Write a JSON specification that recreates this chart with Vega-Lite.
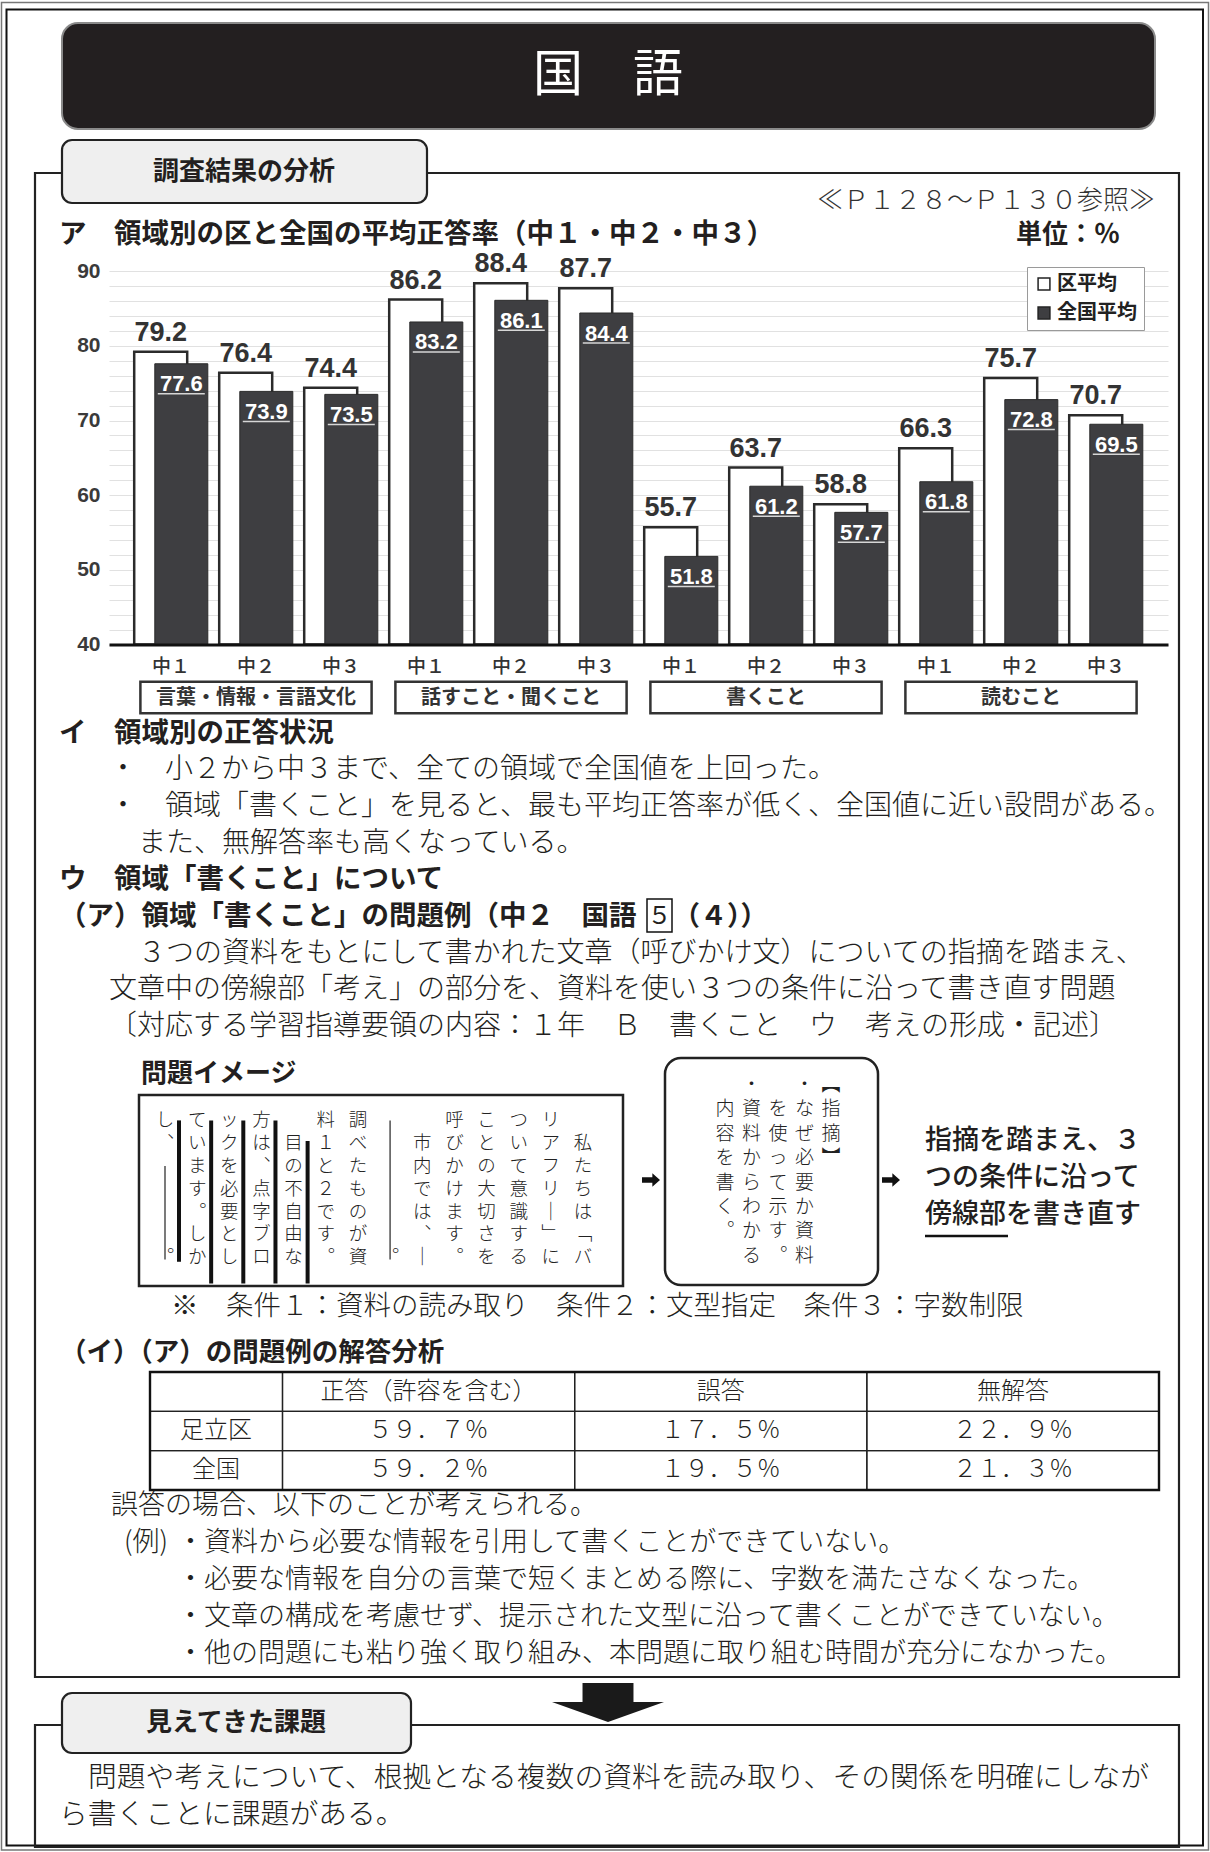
{
  "$schema": "https://vega.github.io/schema/vega-lite/v6.json",
  "width": 1210,
  "height": 1852,
  "autosize": {"type": "none"},
  "padding": 0,
  "background": "#ffffff",
  "config": {"view": {"stroke": null}, "text": {"font": "Noto Sans CJK JP", "color": "#231f20"}},
  "datasets": {
    "bars": [
      {"domain": "言葉・情報・言語文化", "grade": "中１", "key": "言葉・情報・言語文化|中１", "series": "区平均", "value": 79.2},
      {"domain": "言葉・情報・言語文化", "grade": "中１", "key": "言葉・情報・言語文化|中１", "series": "全国平均", "value": 77.6},
      {"domain": "言葉・情報・言語文化", "grade": "中２", "key": "言葉・情報・言語文化|中２", "series": "区平均", "value": 76.4},
      {"domain": "言葉・情報・言語文化", "grade": "中２", "key": "言葉・情報・言語文化|中２", "series": "全国平均", "value": 73.9},
      {"domain": "言葉・情報・言語文化", "grade": "中３", "key": "言葉・情報・言語文化|中３", "series": "区平均", "value": 74.4},
      {"domain": "言葉・情報・言語文化", "grade": "中３", "key": "言葉・情報・言語文化|中３", "series": "全国平均", "value": 73.5},
      {"domain": "話すこと・聞くこと", "grade": "中１", "key": "話すこと・聞くこと|中１", "series": "区平均", "value": 86.2},
      {"domain": "話すこと・聞くこと", "grade": "中１", "key": "話すこと・聞くこと|中１", "series": "全国平均", "value": 83.2},
      {"domain": "話すこと・聞くこと", "grade": "中２", "key": "話すこと・聞くこと|中２", "series": "区平均", "value": 88.4},
      {"domain": "話すこと・聞くこと", "grade": "中２", "key": "話すこと・聞くこと|中２", "series": "全国平均", "value": 86.1},
      {"domain": "話すこと・聞くこと", "grade": "中３", "key": "話すこと・聞くこと|中３", "series": "区平均", "value": 87.7},
      {"domain": "話すこと・聞くこと", "grade": "中３", "key": "話すこと・聞くこと|中３", "series": "全国平均", "value": 84.4},
      {"domain": "書くこと", "grade": "中１", "key": "書くこと|中１", "series": "区平均", "value": 55.7},
      {"domain": "書くこと", "grade": "中１", "key": "書くこと|中１", "series": "全国平均", "value": 51.8},
      {"domain": "書くこと", "grade": "中２", "key": "書くこと|中２", "series": "区平均", "value": 63.7},
      {"domain": "書くこと", "grade": "中２", "key": "書くこと|中２", "series": "全国平均", "value": 61.2},
      {"domain": "書くこと", "grade": "中３", "key": "書くこと|中３", "series": "区平均", "value": 58.8},
      {"domain": "書くこと", "grade": "中３", "key": "書くこと|中３", "series": "全国平均", "value": 57.7},
      {"domain": "読むこと", "grade": "中１", "key": "読むこと|中１", "series": "区平均", "value": 66.3},
      {"domain": "読むこと", "grade": "中１", "key": "読むこと|中１", "series": "全国平均", "value": 61.8},
      {"domain": "読むこと", "grade": "中２", "key": "読むこと|中２", "series": "区平均", "value": 75.7},
      {"domain": "読むこと", "grade": "中２", "key": "読むこと|中２", "series": "全国平均", "value": 72.8},
      {"domain": "読むこと", "grade": "中３", "key": "読むこと|中３", "series": "区平均", "value": 70.7},
      {"domain": "読むこと", "grade": "中３", "key": "読むこと|中３", "series": "全国平均", "value": 69.5}
    ],
    "answers": [
      {"area": "項目", "kind": "正答（許容を含む）", "pct": null, "label": "正答（許容を含む）"},
      {"area": "項目", "kind": "誤答", "pct": null, "label": "誤答"},
      {"area": "項目", "kind": "無解答", "pct": null, "label": "無解答"},
      {"area": "足立区", "kind": "正答（許容を含む）", "pct": 59.7, "label": "５９．７％"},
      {"area": "足立区", "kind": "誤答", "pct": 17.5, "label": "１７．５％"},
      {"area": "足立区", "kind": "無解答", "pct": 22.9, "label": "２２．９％"},
      {"area": "全国", "kind": "正答（許容を含む）", "pct": 59.2, "label": "５９．２％"},
      {"area": "全国", "kind": "誤答", "pct": 19.5, "label": "１９．５％"},
      {"area": "全国", "kind": "無解答", "pct": 21.3, "label": "２１．３％"}
    ],
    "passage": [
      {"col": 0, "pos": 1, "ch": "私"}, {"col": 0, "pos": 2, "ch": "た"}, {"col": 0, "pos": 3, "ch": "ち"}, {"col": 0, "pos": 4, "ch": "は"}, {"col": 0, "pos": 5, "ch": "﹁"}, {"col": 0, "pos": 6, "ch": "バ"},
      {"col": 1, "pos": 0, "ch": "リ"}, {"col": 1, "pos": 1, "ch": "ア"}, {"col": 1, "pos": 2, "ch": "フ"}, {"col": 1, "pos": 3, "ch": "リ"}, {"col": 1, "pos": 4, "ch": "｜"}, {"col": 1, "pos": 5, "ch": "﹂"}, {"col": 1, "pos": 6, "ch": "に"},
      {"col": 2, "pos": 0, "ch": "つ"}, {"col": 2, "pos": 1, "ch": "い"}, {"col": 2, "pos": 2, "ch": "て"}, {"col": 2, "pos": 3, "ch": "意"}, {"col": 2, "pos": 4, "ch": "識"}, {"col": 2, "pos": 5, "ch": "す"}, {"col": 2, "pos": 6, "ch": "る"},
      {"col": 3, "pos": 0, "ch": "こ"}, {"col": 3, "pos": 1, "ch": "と"}, {"col": 3, "pos": 2, "ch": "の"}, {"col": 3, "pos": 3, "ch": "大"}, {"col": 3, "pos": 4, "ch": "切"}, {"col": 3, "pos": 5, "ch": "さ"}, {"col": 3, "pos": 6, "ch": "を"},
      {"col": 4, "pos": 0, "ch": "呼"}, {"col": 4, "pos": 1, "ch": "び"}, {"col": 4, "pos": 2, "ch": "か"}, {"col": 4, "pos": 3, "ch": "け"}, {"col": 4, "pos": 4, "ch": "ま"}, {"col": 4, "pos": 5, "ch": "す"}, {"col": 4, "pos": 6, "ch": "︒"},
      {"col": 5, "pos": 1, "ch": "市"}, {"col": 5, "pos": 2, "ch": "内"}, {"col": 5, "pos": 3, "ch": "で"}, {"col": 5, "pos": 4, "ch": "は"}, {"col": 5, "pos": 5, "ch": "︑"}, {"col": 5, "pos": 6, "ch": "｜"},
      {"col": 6, "pos": 6, "ch": "︒"},
      {"col": 7, "pos": 0, "ch": "調"}, {"col": 7, "pos": 1, "ch": "べ"}, {"col": 7, "pos": 2, "ch": "た"}, {"col": 7, "pos": 3, "ch": "も"}, {"col": 7, "pos": 4, "ch": "の"}, {"col": 7, "pos": 5, "ch": "が"}, {"col": 7, "pos": 6, "ch": "資"},
      {"col": 8, "pos": 0, "ch": "料"}, {"col": 8, "pos": 1, "ch": "１"}, {"col": 8, "pos": 2, "ch": "と"}, {"col": 8, "pos": 3, "ch": "２"}, {"col": 8, "pos": 4, "ch": "で"}, {"col": 8, "pos": 5, "ch": "す"}, {"col": 8, "pos": 6, "ch": "︒"},
      {"col": 9, "pos": 1, "ch": "目"}, {"col": 9, "pos": 2, "ch": "の"}, {"col": 9, "pos": 3, "ch": "不"}, {"col": 9, "pos": 4, "ch": "自"}, {"col": 9, "pos": 5, "ch": "由"}, {"col": 9, "pos": 6, "ch": "な"},
      {"col": 10, "pos": 0, "ch": "方"}, {"col": 10, "pos": 1, "ch": "は"}, {"col": 10, "pos": 2, "ch": "︑"}, {"col": 10, "pos": 3, "ch": "点"}, {"col": 10, "pos": 4, "ch": "字"}, {"col": 10, "pos": 5, "ch": "ブ"}, {"col": 10, "pos": 6, "ch": "ロ"},
      {"col": 11, "pos": 0, "ch": "ッ"}, {"col": 11, "pos": 1, "ch": "ク"}, {"col": 11, "pos": 2, "ch": "を"}, {"col": 11, "pos": 3, "ch": "必"}, {"col": 11, "pos": 4, "ch": "要"}, {"col": 11, "pos": 5, "ch": "と"}, {"col": 11, "pos": 6, "ch": "し"},
      {"col": 12, "pos": 0, "ch": "て"}, {"col": 12, "pos": 1, "ch": "い"}, {"col": 12, "pos": 2, "ch": "ま"}, {"col": 12, "pos": 3, "ch": "す"}, {"col": 12, "pos": 4, "ch": "︒"}, {"col": 12, "pos": 5, "ch": "し"}, {"col": 12, "pos": 6, "ch": "か"},
      {"col": 13, "pos": 0, "ch": "し"}, {"col": 13, "pos": 1, "ch": "︑"}, {"col": 13, "pos": 6, "ch": "︒"}
    ],
    "remark": [
      {"col": 0, "pos": 0, "ch": "︻"}, {"col": 0, "pos": 1, "ch": "指"}, {"col": 0, "pos": 2, "ch": "摘"}, {"col": 0, "pos": 3, "ch": "︼"},
      {"col": 1, "pos": 0, "ch": "・"}, {"col": 1, "pos": 1, "ch": "な"}, {"col": 1, "pos": 2, "ch": "ぜ"}, {"col": 1, "pos": 3, "ch": "必"}, {"col": 1, "pos": 4, "ch": "要"}, {"col": 1, "pos": 5, "ch": "か"}, {"col": 1, "pos": 6, "ch": "資"}, {"col": 1, "pos": 7, "ch": "料"},
      {"col": 2, "pos": 1, "ch": "を"}, {"col": 2, "pos": 2, "ch": "使"}, {"col": 2, "pos": 3, "ch": "っ"}, {"col": 2, "pos": 4, "ch": "て"}, {"col": 2, "pos": 5, "ch": "示"}, {"col": 2, "pos": 6, "ch": "す"}, {"col": 2, "pos": 7, "ch": "︒"},
      {"col": 3, "pos": 0, "ch": "・"}, {"col": 3, "pos": 1, "ch": "資"}, {"col": 3, "pos": 2, "ch": "料"}, {"col": 3, "pos": 3, "ch": "か"}, {"col": 3, "pos": 4, "ch": "ら"}, {"col": 3, "pos": 5, "ch": "わ"}, {"col": 3, "pos": 6, "ch": "か"}, {"col": 3, "pos": 7, "ch": "る"},
      {"col": 4, "pos": 1, "ch": "内"}, {"col": 4, "pos": 2, "ch": "容"}, {"col": 4, "pos": 3, "ch": "を"}, {"col": 4, "pos": 4, "ch": "書"}, {"col": 4, "pos": 5, "ch": "く"}, {"col": 4, "pos": 6, "ch": "︒"}
    ]
  },
  "resolve": {"scale": {"x": "independent", "y": "independent"}},
  "layer": [
    {"data": {"values": [{}]}, "mark": {"type": "rect", "filled": false, "stroke": "#777777", "strokeWidth": 1.5},
     "encoding": {"x": {"value": 1.5}, "x2": {"value": 1208.5}, "y": {"value": 2.5}, "y2": {"value": 1850}}},
    {"data": {"values": [{}]}, "mark": {"type": "rect", "filled": false, "stroke": "#111111", "strokeWidth": 2},
     "encoding": {"x": {"value": 6.5}, "x2": {"value": 1203}, "y": {"value": 9.5}, "y2": {"value": 1845.5}}},
    {"data": {"values": [{}]}, "mark": {"type": "rect", "fill": "#231f20", "stroke": "#8a8a8a", "strokeWidth": 2, "cornerRadius": 16},
     "encoding": {"x": {"value": 62}, "x2": {"value": 1155}, "y": {"value": 23}, "y2": {"value": 129}}},
    {"data": {"values": [{"t": "国　語"}]}, "mark": {"type": "text", "fontSize": 50, "fontWeight": 400, "color": "#ffffff", "align": "center", "baseline": "middle"},
     "encoding": {"x": {"value": 608}, "y": {"value": 76}, "text": {"field": "t"}}},
    {"data": {"values": [{}]}, "mark": {"type": "rect", "filled": false, "stroke": "#222222", "strokeWidth": 2.2},
     "encoding": {"x": {"value": 35}, "x2": {"value": 1179}, "y": {"value": 173}, "y2": {"value": 1677}}},
    {"data": {"values": [{}]}, "mark": {"type": "rect", "fill": "#efefef", "stroke": "#222222", "strokeWidth": 2.2, "cornerRadius": 10},
     "encoding": {"x": {"value": 62}, "x2": {"value": 427}, "y": {"value": 140}, "y2": {"value": 203}}},
    {"data": {"values": [{"t": "調査結果の分析"}]}, "mark": {"type": "text", "fontSize": 26, "fontWeight": "bold", "align": "center", "baseline": "middle"},
     "encoding": {"x": {"value": 244}, "y": {"value": 172}, "text": {"field": "t"}}},
    {"data": {"values": [{"t": "≪Ｐ１２８～Ｐ１３０参照≫"}]}, "mark": {"type": "text", "fontSize": 26, "fontWeight": 300, "color": "#333333", "align": "right", "baseline": "middle"},
     "encoding": {"x": {"value": 1155}, "y": {"value": 201}, "text": {"field": "t"}}},
    {"data": {"values": [{"t": "ア　領域別の区と全国の平均正答率（中１・中２・中３）"}]}, "mark": {"type": "text", "fontSize": 27.5, "fontWeight": "bold", "align": "left", "baseline": "middle"},
     "encoding": {"x": {"value": 59}, "y": {"value": 235}, "text": {"field": "t"}}},
    {"data": {"values": [{"t": "単位：％"}]}, "mark": {"type": "text", "fontSize": 26, "fontWeight": "bold", "align": "right", "baseline": "middle"},
     "encoding": {"x": {"value": 1120}, "y": {"value": 235}, "text": {"field": "t"}}},
    {
      "data": {"name": "bars"},
      "encoding": {
        "x": {"field": "key", "type": "nominal",
              "scale": {"domain": ["言葉・情報・言語文化|中１", "言葉・情報・言語文化|中２", "言葉・情報・言語文化|中３", "話すこと・聞くこと|中１", "話すこと・聞くこと|中２", "話すこと・聞くこと|中３", "書くこと|中１", "書くこと|中２", "書くこと|中３", "読むこと|中１", "読むこと|中２", "読むこと|中３"],
                        "range": [109, 1168], "paddingInner": 0, "paddingOuter": 0.2294},
              "axis": {"orient": "bottom", "offset": -1207.5, "title": null, "labelExpr": "split(datum.value, '|')[1]", "labelAngle": 0, "labelFont": "Noto Sans CJK JP", "labelFontSize": 19, "labelFontWeight": 500, "labelColor": "#333333", "labelPadding": 13, "ticks": false, "domainColor": "#111111", "domainWidth": 3, "grid": false, "zindex": 1, "labelOverlap": false}},
        "y": {"field": "value", "type": "quantitative",
              "scale": {"domain": [40, 90], "range": [644.5, 271.2], "zero": false, "nice": false},
              "axis": {"orient": "left", "offset": -109, "title": null, "values": [40, 42, 44, 46, 48, 50, 52, 54, 56, 58, 60, 62, 64, 66, 68, 70, 72, 74, 76, 78, 80, 82, 84, 86, 88, 90], "labelExpr": "datum.value % 10 === 0 ? datum.label : ''", "labelFont": "Liberation Sans", "labelFontSize": 21, "labelFontWeight": "bold", "labelColor": "#3a3a3a", "labelPadding": 9, "ticks": false, "domain": false, "grid": true, "gridColor": "#e1e1e1", "gridWidth": 1, "labelOverlap": false, "labelFlush": false, "zindex": 0}}
      },
      "layer": [
        {"transform": [{"filter": "datum.series === '区平均'"}],
         "mark": {"type": "bar", "width": {"band": 0.6235}, "xOffset": -10.3, "stroke": "#2b2b2b", "strokeWidth": 2.5},
         "encoding": {"y2": {"datum": 40},
                      "fill": {"field": "series", "type": "nominal", "scale": {"domain": ["区平均", "全国平均"], "range": ["#ffffff", "#3e3e41"]},
                               "legend": {"orient": "none", "legendX": 1027, "legendY": 267, "title": null, "symbolType": "square", "symbolSize": 140, "symbolStrokeColor": "#222222", "symbolStrokeWidth": 1.5, "labelFont": "Noto Sans CJK JP", "labelFontSize": 20, "labelFontWeight": "bold", "labelColor": "#222222", "rowPadding": 9, "padding": 7, "strokeColor": "#9a9a9a", "fillColor": "#ffffff", "labelOffset": 3}}}},
        {"transform": [{"filter": "datum.series === '全国平均'"}],
         "mark": {"type": "bar", "width": {"band": 0.6235}, "xOffset": 10.3, "stroke": "#2b2b2b", "strokeWidth": 1},
         "encoding": {"y2": {"datum": 40},
                      "fill": {"field": "series", "type": "nominal", "scale": {"domain": ["区平均", "全国平均"], "range": ["#ffffff", "#3e3e41"]},
                               "legend": {"orient": "none", "legendX": 1027, "legendY": 267, "title": null, "symbolType": "square", "symbolSize": 140, "symbolStrokeColor": "#222222", "symbolStrokeWidth": 1.5, "labelFont": "Noto Sans CJK JP", "labelFontSize": 20, "labelFontWeight": "bold", "labelColor": "#222222", "rowPadding": 9, "padding": 7, "strokeColor": "#9a9a9a", "fillColor": "#ffffff", "labelOffset": 3}}}},
        {"transform": [{"filter": "datum.series === '区平均'"}],
         "mark": {"type": "text", "font": "Liberation Sans", "fontSize": 27, "fontWeight": "bold", "color": "#333333", "align": "center", "baseline": "alphabetic", "dx": -10.3, "dy": -11},
         "encoding": {"text": {"field": "value", "type": "quantitative", "format": ".1f"}}},
        {"transform": [{"filter": "datum.series === '全国平均'"}],
         "mark": {"type": "text", "font": "Liberation Sans", "fontSize": 22, "fontWeight": "bold", "color": "#ffffff", "align": "center", "baseline": "alphabetic", "dx": 10.3, "dy": 27.5},
         "encoding": {"text": {"field": "value", "type": "quantitative", "format": ".1f"}}},
        {"transform": [{"filter": "datum.series === '全国平均'"}],
         "mark": {"type": "tick", "orient": "horizontal", "size": 47, "thickness": 1.5, "color": "#d6d6d6", "opacity": 1, "xOffset": 10.3, "yOffset": 30}}
      ]
    },
    {
      "data": {"name": "bars"},
      "transform": [{"filter": "datum.grade === '中２' && datum.series === '区平均'"}],
      "encoding": {
        "x": {"field": "key", "type": "nominal",
              "scale": {"domain": ["言葉・情報・言語文化|中１", "言葉・情報・言語文化|中２", "言葉・情報・言語文化|中３", "話すこと・聞くこと|中１", "話すこと・聞くこと|中２", "話すこと・聞くこと|中３", "書くこと|中１", "書くこと|中２", "書くこと|中３", "読むこと|中１", "読むこと|中２", "読むこと|中３"],
                        "range": [109, 1168], "paddingInner": 0, "paddingOuter": 0.2294}, "axis": null}
      },
      "layer": [
        {"mark": {"type": "bar", "width": {"band": 2.72}, "fill": "#ffffff", "stroke": "#333333", "strokeWidth": 2.5},
         "encoding": {"y": {"datum": 35.0, "type": "quantitative", "scale": {"domain": [40, 90], "range": [644.5, 271.2], "zero": false, "nice": false}, "axis": null}, "y2": {"datum": 30.8}}},
        {"mark": {"type": "text", "fontSize": 20, "fontWeight": "bold", "color": "#333333", "align": "center", "baseline": "middle"},
         "encoding": {"y": {"datum": 32.9, "type": "quantitative", "scale": {"domain": [40, 90], "range": [644.5, 271.2], "zero": false, "nice": false}, "axis": null}, "text": {"field": "domain"}}}
      ]
    },
    {"data": {"values": [{"line": 0, "text": "イ　領域別の正答状況"}, {"line": 4, "text": "ウ　領域「書くこと」について"}, {"line": 5, "text": "（ア）領域「書くこと」の問題例（中２　国語"}]},
     "mark": {"type": "text", "fontSize": 27.5, "fontWeight": "bold", "align": "left", "baseline": "middle"},
     "encoding": {"x": {"value": 59}, "y": {"field": "line", "type": "quantitative", "scale": {"domain": [0, 8], "range": [733.8, 1026.9], "zero": false, "nice": false}, "axis": null}, "text": {"field": "text"}}},
    {"data": {"values": [{"line": 5, "text": "（４））"}]},
     "mark": {"type": "text", "fontSize": 27, "fontWeight": "bold", "align": "left", "baseline": "middle"},
     "encoding": {"x": {"value": 673}, "y": {"field": "line", "type": "quantitative", "scale": {"domain": [0, 8], "range": [733.8, 1026.9], "zero": false, "nice": false}, "axis": null}, "text": {"field": "text"}}},
    {"data": {"values": [{"line": 5, "text": "５"}]},
     "mark": {"type": "text", "fontSize": 24, "fontWeight": 400, "align": "center", "baseline": "middle"},
     "encoding": {"x": {"value": 659.5}, "y": {"field": "line", "type": "quantitative", "scale": {"domain": [0, 8], "range": [733.8, 1026.9], "zero": false, "nice": false}, "axis": null}, "text": {"field": "text"}}},
    {"data": {"values": [{}]}, "mark": {"type": "rect", "filled": false, "stroke": "#111111", "strokeWidth": 1.5},
     "encoding": {"x": {"value": 647}, "x2": {"value": 672}, "y": {"value": 899}, "y2": {"value": 932}}},
    {"data": {"values": [
       {"line": 1, "text": "・　小２から中３まで、全ての領域で全国値を上回った。"},
       {"line": 2, "text": "・　領域「書くこと」を見ると、最も平均正答率が低く、全国値に近い設問がある。"},
       {"line": 7, "text": "文章中の傍線部「考え」の部分を、資料を使い３つの条件に沿って書き直す問題"},
       {"line": 8, "text": "〔対応する学習指導要領の内容：１年　Ｂ　書くこと　ウ　考えの形成・記述〕"}]},
     "mark": {"type": "text", "fontSize": 28, "fontWeight": 300, "align": "left", "baseline": "middle"},
     "encoding": {"x": {"value": 109}, "y": {"field": "line", "type": "quantitative", "scale": {"domain": [0, 8], "range": [733.8, 1026.9], "zero": false, "nice": false}, "axis": null}, "text": {"field": "text"}}},
    {"data": {"values": [
       {"line": 3, "text": "また、無解答率も高くなっている。"},
       {"line": 6, "text": "３つの資料をもとにして書かれた文章（呼びかけ文）についての指摘を踏まえ、"}]},
     "mark": {"type": "text", "fontSize": 28, "fontWeight": 300, "align": "left", "baseline": "middle"},
     "encoding": {"x": {"value": 138}, "y": {"field": "line", "type": "quantitative", "scale": {"domain": [0, 8], "range": [733.8, 1026.9], "zero": false, "nice": false}, "axis": null}, "text": {"field": "text"}}},
    {"data": {"values": [{"t": "問題イメージ"}]}, "mark": {"type": "text", "fontSize": 26, "fontWeight": "bold", "align": "left", "baseline": "middle"},
     "encoding": {"x": {"value": 141}, "y": {"value": 1074}, "text": {"field": "t"}}},
    {"data": {"values": [{}]}, "mark": {"type": "rect", "fill": "#ffffff", "stroke": "#222222", "strokeWidth": 2.5},
     "encoding": {"x": {"value": 139}, "x2": {"value": 623}, "y": {"value": 1095}, "y2": {"value": 1286}}},
    {
      "layer": [
        {"data": {"name": "passage"},
         "mark": {"type": "text", "fontSize": 18.5, "fontWeight": 300, "align": "center", "baseline": "middle", "color": "#222222"},
         "encoding": {"x": {"field": "col", "type": "quantitative", "scale": {"domain": [0, 13], "range": [583, 165], "zero": false, "nice": false}, "axis": null},
                      "y": {"field": "pos", "type": "quantitative", "scale": {"domain": [0, 7], "range": [1120.4, 1280], "zero": false, "nice": false}, "axis": null},
                      "text": {"field": "ch"}}},
        {"data": {"values": [
           {"col": 9, "start": 0.9, "end": 7.15}, {"col": 10, "start": 0, "end": 7.15}, {"col": 11, "start": 0, "end": 7.15}, {"col": 12, "start": 0, "end": 7.15}, {"col": 13, "start": 0, "end": 6.2}]},
         "mark": {"type": "rule", "strokeWidth": 4, "color": "#111111", "xOffset": 14},
         "encoding": {"x": {"field": "col", "type": "quantitative", "scale": {"domain": [0, 13], "range": [583, 165], "zero": false, "nice": false}, "axis": null},
                      "y": {"field": "start", "type": "quantitative", "scale": {"domain": [0, 7], "range": [1109, 1268.6], "zero": false, "nice": false}, "axis": null},
                      "y2": {"field": "end"}}},
        {"data": {"values": [{"col": 6, "start": 0, "end": 6.1}, {"col": 13, "start": 2, "end": 6.1}]},
         "mark": {"type": "rule", "strokeWidth": 1.3, "color": "#333333"},
         "encoding": {"x": {"field": "col", "type": "quantitative", "scale": {"domain": [0, 13], "range": [583, 165], "zero": false, "nice": false}, "axis": null},
                      "y": {"field": "start", "type": "quantitative", "scale": {"domain": [0, 7], "range": [1109, 1268.6], "zero": false, "nice": false}, "axis": null},
                      "y2": {"field": "end"}}}
      ]
    },
    {"data": {"values": [{}]}, "mark": {"type": "point", "shape": "M -1 -0.3 L 0.15 -0.3 L 0.15 -0.75 L 1 0 L 0.15 0.75 L 0.15 0.3 L -1 0.3 Z", "size": 324, "filled": true, "color": "#111111", "opacity": 1},
     "encoding": {"x": {"value": 651}, "y": {"value": 1180}}},
    {"data": {"values": [{}]}, "mark": {"type": "rect", "fill": "#ffffff", "stroke": "#222222", "strokeWidth": 2.5, "cornerRadius": 16},
     "encoding": {"x": {"value": 665}, "x2": {"value": 878}, "y": {"value": 1058}, "y2": {"value": 1285}}},
    {"data": {"name": "remark"},
     "mark": {"type": "text", "fontSize": 19, "fontWeight": 300, "align": "center", "baseline": "middle", "color": "#222222"},
     "encoding": {"x": {"field": "col", "type": "quantitative", "scale": {"domain": [0, 4], "range": [831, 725], "zero": false, "nice": false}, "axis": null},
                  "y": {"field": "pos", "type": "quantitative", "scale": {"domain": [0, 7], "range": [1085, 1255.8], "zero": false, "nice": false}, "axis": null},
                  "text": {"field": "ch"}}},
    {"data": {"values": [{}]}, "mark": {"type": "point", "shape": "M -1 -0.3 L 0.15 -0.3 L 0.15 -0.75 L 1 0 L 0.15 0.75 L 0.15 0.3 L -1 0.3 Z", "size": 324, "filled": true, "color": "#111111", "opacity": 1},
     "encoding": {"x": {"value": 891}, "y": {"value": 1180}}},
    {"data": {"values": [{"line": 0, "text": "指摘を踏まえ、３"}, {"line": 1, "text": "つの条件に沿って"}, {"line": 2, "text": "傍線部を書き直す"}]},
     "mark": {"type": "text", "fontSize": 27, "fontWeight": 500, "align": "left", "baseline": "middle"},
     "encoding": {"x": {"value": 925}, "y": {"field": "line", "type": "quantitative", "scale": {"domain": [0, 2], "range": [1141, 1215], "zero": false, "nice": false}, "axis": null}, "text": {"field": "text"}}},
    {"data": {"values": [{}]}, "mark": {"type": "rule", "strokeWidth": 2.5, "color": "#111111"},
     "encoding": {"x": {"value": 925}, "x2": {"value": 1008}, "y": {"value": 1236}}},
    {"data": {"values": [{"t": "※　条件１：資料の読み取り　条件２：文型指定　条件３：字数制限"}]}, "mark": {"type": "text", "fontSize": 27.5, "fontWeight": 300, "align": "left", "baseline": "middle"},
     "encoding": {"x": {"value": 171}, "y": {"value": 1307}, "text": {"field": "t"}}},
    {"data": {"values": [{"t": "（イ）（ア）の問題例の解答分析"}]}, "mark": {"type": "text", "fontSize": 26.5, "fontWeight": "bold", "align": "left", "baseline": "middle"},
     "encoding": {"x": {"value": 60}, "y": {"value": 1353}, "text": {"field": "t"}}},
    {
      "encoding": {
        "y": {"field": "area", "type": "nominal", "scale": {"domain": ["項目", "足立区", "全国"], "range": [1372, 1490], "paddingInner": 0, "paddingOuter": 0}, "axis": null}
      },
      "layer": [
        {"data": {"name": "answers"},
         "mark": {"type": "rect", "filled": false, "stroke": "#222222", "strokeWidth": 1.3},
         "encoding": {"x": {"field": "kind", "type": "nominal", "scale": {"domain": ["正答（許容を含む）", "誤答", "無解答"], "range": [282.5, 1159], "paddingInner": 0, "paddingOuter": 0}, "axis": null}}},
        {"data": {"name": "answers"},
         "mark": {"type": "text", "fontSize": 24, "fontWeight": 300, "align": "center", "baseline": "middle"},
         "encoding": {"x": {"field": "kind", "type": "nominal", "scale": {"domain": ["正答（許容を含む）", "誤答", "無解答"], "range": [282.5, 1159], "paddingInner": 0, "paddingOuter": 0}, "axis": null},
                      "text": {"field": "label"}}},
        {"data": {"values": [{"area": "項目", "name": ""}, {"area": "足立区", "name": "足立区"}, {"area": "全国", "name": "全国"}]},
         "mark": {"type": "rect", "filled": false, "stroke": "#222222", "strokeWidth": 1.3},
         "encoding": {"x": {"value": 150}, "x2": {"value": 282.5}}},
        {"data": {"values": [{"area": "足立区", "name": "足立区"}, {"area": "全国", "name": "全国"}]},
         "mark": {"type": "text", "fontSize": 24, "fontWeight": 300, "align": "center", "baseline": "middle"},
         "encoding": {"x": {"value": 216}, "text": {"field": "name"}}}
      ]
    },
    {"data": {"values": [{}]}, "mark": {"type": "rect", "filled": false, "stroke": "#111111", "strokeWidth": 2.4},
     "encoding": {"x": {"value": 150}, "x2": {"value": 1159}, "y": {"value": 1372}, "y2": {"value": 1490}}},
    {"data": {"values": [{"line": 0, "text": "誤答の場合、以下のことが考えられる。"}]},
     "mark": {"type": "text", "fontSize": 27, "fontWeight": 300, "align": "left", "baseline": "middle"},
     "encoding": {"x": {"value": 111}, "y": {"field": "line", "type": "quantitative", "scale": {"domain": [0, 4], "range": [1506, 1654], "zero": false, "nice": false}, "axis": null}, "text": {"field": "text"}}},
    {"data": {"values": [{"line": 1, "text": "(例)"}]},
     "mark": {"type": "text", "fontSize": 27, "fontWeight": 300, "align": "left", "baseline": "middle"},
     "encoding": {"x": {"value": 124}, "y": {"field": "line", "type": "quantitative", "scale": {"domain": [0, 4], "range": [1506, 1654], "zero": false, "nice": false}, "axis": null}, "text": {"field": "text"}}},
    {"data": {"values": [
       {"line": 1, "text": "・資料から必要な情報を引用して書くことができていない。"},
       {"line": 2, "text": "・必要な情報を自分の言葉で短くまとめる際に、字数を満たさなくなった。"},
       {"line": 3, "text": "・文章の構成を考慮せず、提示された文型に沿って書くことができていない。"},
       {"line": 4, "text": "・他の問題にも粘り強く取り組み、本問題に取り組む時間が充分になかった。"}]},
     "mark": {"type": "text", "fontSize": 27, "fontWeight": 300, "align": "left", "baseline": "middle"},
     "encoding": {"x": {"value": 177}, "y": {"field": "line", "type": "quantitative", "scale": {"domain": [0, 4], "range": [1506, 1654], "zero": false, "nice": false}, "axis": null}, "text": {"field": "text"}}},
    {"data": {"values": [{}]}, "mark": {"type": "point", "shape": "M -0.455 -0.339 L 0.455 -0.339 L 0.455 0 L 1 0 L 0 0.357 L -1 0 L -0.455 0 Z", "size": 12544, "filled": true, "color": "#1a1a1a", "opacity": 1},
     "encoding": {"x": {"value": 608}, "y": {"value": 1702}}},
    {"data": {"values": [{}]}, "mark": {"type": "rect", "filled": false, "stroke": "#222222", "strokeWidth": 2.2},
     "encoding": {"x": {"value": 35}, "x2": {"value": 1179}, "y": {"value": 1725}, "y2": {"value": 1847}}},
    {"data": {"values": [{}]}, "mark": {"type": "rect", "fill": "#efefef", "stroke": "#222222", "strokeWidth": 2.2, "cornerRadius": 10},
     "encoding": {"x": {"value": 62}, "x2": {"value": 411}, "y": {"value": 1693}, "y2": {"value": 1753}}},
    {"data": {"values": [{"t": "見えてきた課題"}]}, "mark": {"type": "text", "fontSize": 26, "fontWeight": "bold", "align": "center", "baseline": "middle"},
     "encoding": {"x": {"value": 236}, "y": {"value": 1723}, "text": {"field": "t"}}},
    {"data": {"values": [{"line": 0, "text": "問題や考えについて、根拠となる複数の資料を読み取り、その関係を明確にしなが"}]},
     "mark": {"type": "text", "fontSize": 28.8, "fontWeight": 300, "align": "left", "baseline": "middle"},
     "encoding": {"x": {"value": 88}, "y": {"field": "line", "type": "quantitative", "scale": {"domain": [0, 1], "range": [1778, 1815], "zero": false, "nice": false}, "axis": null}, "text": {"field": "text"}}},
    {"data": {"values": [{"line": 1, "text": "ら書くことに課題がある。"}]},
     "mark": {"type": "text", "fontSize": 28.8, "fontWeight": 300, "align": "left", "baseline": "middle"},
     "encoding": {"x": {"value": 59}, "y": {"field": "line", "type": "quantitative", "scale": {"domain": [0, 1], "range": [1778, 1815], "zero": false, "nice": false}, "axis": null}, "text": {"field": "text"}}}
  ]
}
